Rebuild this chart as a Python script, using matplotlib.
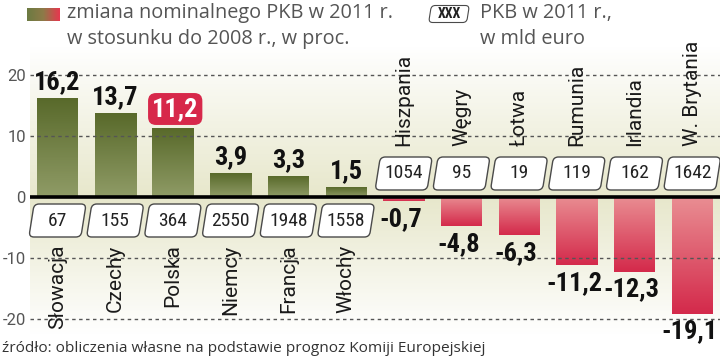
"""
GDP change 2008-2011 bar chart (nominal, per cent) with GDP 2011 in bn euro.
"""
import numpy as np
import matplotlib
matplotlib.use("Agg")
import matplotlib.pyplot as plt
from matplotlib import font_manager
from matplotlib.colors import LinearSegmentedColormap
from matplotlib.patches import FancyBboxPatch
from matplotlib.transforms import Affine2D

# Data
countries = ["Słowacja", "Czechy", "Polska", "Niemcy", "Francja", "Włochy",
             "Hiszpania", "Węgry", "Łotwa", "Rumunia", "Irlandia", "W. Brytania"]
change_pct = [16.2, 13.7, 11.2, 3.9, 3.3, 1.5,
              -0.7, -4.8, -6.3, -11.2, -12.3, -19.1]
gdp_2011 = [67, 155, 364, 2550, 1948, 1558,
            1054, 95, 19, 119, 162, 1642]
y_ticks = [20, 10, 0, -10, -20]
highlight = "Polska"

LEGEND_CHANGE = ["zmiana nominalnego PKB w 2011 r.", "w stosunku do 2008 r., w proc."]
LEGEND_GDP = ["PKB w 2011 r.,", "w mld euro"]
SOURCE = "źródło: obliczenia własne na podstawie prognoz Komiji Europejskiej"

# Figure geometry (pixels)
W, H = 720, 359
DPI = 100
PITCH, X0 = 57.7, 57.5       # bar spacing and first bar center
ZERO_PX, UNIT_PX = 197, 6.1  # y of zero line, pixels per percent
AX_L, AX_R, AX_T, AX_B = 30, 720, 45, 335

_installed = {f.name for f in font_manager.fontManager.ttflist}


def pick_font(*names):
    for n in names:
        if n in _installed:
            return n
    return "DejaVu Sans"


NARROW = pick_font("Liberation Sans Narrow", "Roboto Condensed", "Liberation Sans")
HAS_NARROW = NARROW != "Liberation Sans"
LABEL_FONT = pick_font("Roboto", "Liberation Sans")
LEGEND_FONT = pick_font("Open Sans", "Lato", "DejaVu Sans")

GREEN_TOP, GREEN_BOT = "#596a2b", "#8f9b66"
RED_TOP, RED_BOT = "#e98d92", "#d42a4b"
HIGHLIGHT_RED = "#d7284a"
BOX_EDGE = "#4a4a4a"
TEXT_GRAY = "#555555"


def px_to_fig(x, y_top):
    return x / W, (H - y_top) / H


fig = plt.figure(figsize=(W / DPI, H / DPI), dpi=DPI)
ax = fig.add_axes([AX_L / W, (H - AX_B) / H, (AX_R - AX_L) / W, (AX_B - AX_T) / H])

xlim = ((AX_L - X0) / PITCH, (AX_R - X0) / PITCH)
ylim = ((ZERO_PX - AX_B) / UNIT_PX, (ZERO_PX - AX_T) / UNIT_PX)

# Background: beige band around zero fading to white
bg_cmap = LinearSegmentedColormap.from_list("bg", ["#ffffff", "#e7e7cb", "#ffffff"])
yy = np.linspace(0, 1, 256).reshape(-1, 1)
zero_frac = (0 - ylim[0]) / (ylim[1] - ylim[0])
bg = np.where(yy < zero_frac, 0.5 * yy / zero_frac, 0.5 + 0.5 * (yy - zero_frac) / (1 - zero_frac))
ax.imshow(bg, cmap=bg_cmap, vmin=0, vmax=1, origin="lower", aspect="auto",
          extent=(xlim[0], xlim[1], ylim[0], ylim[1]), zorder=0)

green_cmap = LinearSegmentedColormap.from_list("g", [GREEN_BOT, GREEN_TOP])
red_cmap = LinearSegmentedColormap.from_list("r", [RED_BOT, RED_TOP])
grad = np.linspace(0, 1, 64).reshape(-1, 1)
bar_w = 41 / PITCH

for i, v in enumerate(change_pct):
    cmap = green_cmap if v >= 0 else red_cmap
    ax.imshow(grad, cmap=cmap, origin="lower", aspect="auto",
              extent=(i - bar_w / 2, i + bar_w / 2, min(v, 0), max(v, 0)), zorder=2)

# Grid and zero line
for t in y_ticks:
    if t == 0:
        ax.axhline(0, color="black", lw=2.6, zorder=4)
    else:
        ax.axhline(t, color="#555555", lw=1.0, ls=(0, (2.5, 2.5)), zorder=3)

ax.set_xlim(*xlim)
ax.set_ylim(*ylim)
ax.set_yticks(y_ticks)
ax.set_yticklabels([str(t) for t in y_ticks], fontsize=12, color="#555555",
                   family=LABEL_FONT)
ax.tick_params(axis="y", length=0, pad=3)
ax.set_xticks([])
for s in ax.spines.values():
    s.set_visible(False)


def slanted_box(xc_px, yc_px, w, h, radius=5, lw=1.0, face="white"):
    t = Affine2D().skew_deg(9, 0).translate(xc_px, H - yc_px)
    box = FancyBboxPatch((-w / 2, -h / 2), w, h,
                         boxstyle=f"round,pad=0,rounding_size={radius}",
                         fc=face, ec=BOX_EDGE, lw=lw, transform=t, zorder=5)
    fig.add_artist(box)


value_size = 19 if HAS_NARROW else 16
box_num_size = 14 if HAS_NARROW else 12

for i, (name, v, gdp) in enumerate(zip(countries, change_pct, gdp_2011)):
    xc_px = X0 + i * PITCH
    if v >= 0:
        box_y = ZERO_PX + 23.5
        name_y, name_va = -7.8, "top"
    else:
        box_y = ZERO_PX - 23.5
        name_y, name_va = 8.3, "bottom"
    slanted_box(xc_px, box_y, 52, 33)
    fig.text(*px_to_fig(xc_px, box_y), str(gdp), ha="center", va="center",
             fontsize=box_num_size, family=NARROW, color="#222222", zorder=6)

    ax.text(i, name_y, name, rotation=90, ha="center", va=name_va,
            fontsize=15, family=LABEL_FONT, color="#1a1a1a", zorder=6)

    label = f"{v:.1f}".replace(".", ",")
    if name == highlight:
        ax.text(i + 0.04, (ZERO_PX - 109) / UNIT_PX, label, ha="center", va="center",
                fontsize=value_size, fontweight="bold", family=NARROW, color="white",
                zorder=7,
                bbox=dict(boxstyle="round,pad=0.15,rounding_size=0.3",
                          fc=HIGHLIGHT_RED, ec="none"))
    elif v >= 0:
        ax.text(i, v + 0.7, label, ha="center", va="bottom", fontsize=value_size,
                fontweight="bold", family=NARROW, color="#111111", zorder=6)
    else:
        ax.text(i - 0.05, v - 0.9, label, ha="center", va="top", fontsize=value_size,
                fontweight="bold", family=NARROW, color="#111111", zorder=6)

# Legend: gradient swatch
sw = fig.add_axes([27 / W, (H - 21) / H, 33 / W, 13 / H])
swatch_cmap = LinearSegmentedColormap.from_list("sw", ["#6c7b42", "#8e7a48", "#e6384f"])
sw.imshow(np.linspace(0, 1, 64).reshape(1, -1), cmap=swatch_cmap, aspect="auto")
sw.axis("off")

fig.text(*px_to_fig(67, 13), LEGEND_CHANGE[0], ha="left", va="center",
         fontsize=14.3, family=LEGEND_FONT, color=TEXT_GRAY)
fig.text(*px_to_fig(67, 39), LEGEND_CHANGE[1], ha="left", va="center",
         fontsize=14.3, family=LEGEND_FONT, color=TEXT_GRAY)

slanted_box(449, 14, 38, 17, radius=4, lw=0.8)
fig.text(*px_to_fig(449, 14), "XXX", ha="center", va="center", fontsize=10,
         fontweight="bold", family=NARROW, color="#222222", zorder=6)
fig.text(*px_to_fig(480, 13), LEGEND_GDP[0], ha="left", va="center",
         fontsize=14.3, family=LEGEND_FONT, color=TEXT_GRAY)
fig.text(*px_to_fig(480, 39), LEGEND_GDP[1], ha="left", va="center",
         fontsize=14.3, family=LEGEND_FONT, color=TEXT_GRAY)

fig.text(*px_to_fig(2, 349), SOURCE, ha="left", va="center", fontsize=11.1,
         family=LEGEND_FONT, color="#333333")

fig.savefig("out.png", dpi=DPI)
plt.close(fig)
